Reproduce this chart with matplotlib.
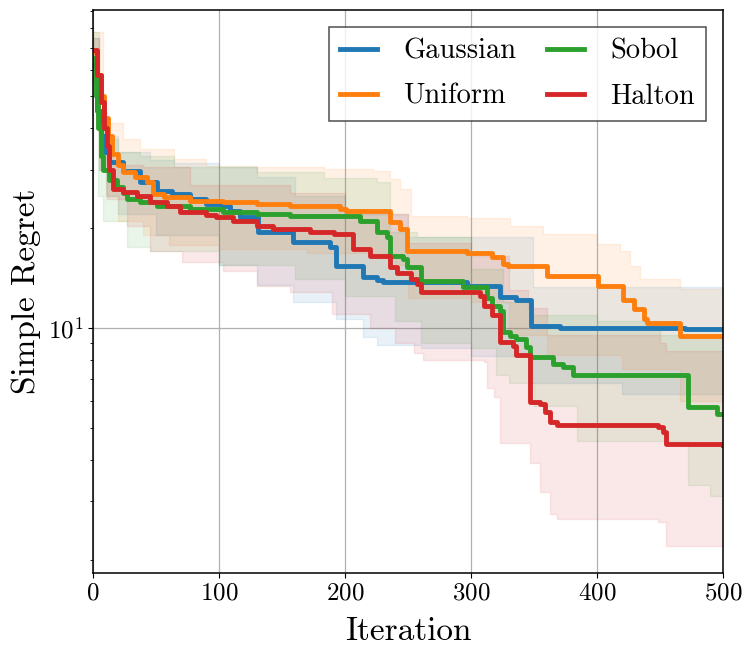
import numpy as np
import matplotlib
matplotlib.use("Agg")
import matplotlib.pyplot as plt
from matplotlib.ticker import NullFormatter

# mean simple regret (step knots: iteration, value)
gauss_x = [0, 3, 6, 9, 13, 24, 37, 51, 63, 77, 90, 103, 109, 117, 131, 159, 188, 193, 214, 225,
           230, 297, 323, 336, 348, 371, 470, 500]
gauss_y = [62, 45, 38, 34, 31.6, 29.7, 27.5, 25.9, 25.3, 24.4, 23.6, 23.3, 22.5, 21.6, 19.5, 18.2,
           17.5, 15.4, 14.2, 13.9, 13.7, 13.4, 12.4, 12.1, 10.15, 10.0, 9.9, 9.9]

unif_x = [0, 3, 6, 9, 12, 15, 20, 24, 33, 43, 48, 56, 77, 103, 130, 156, 196, 201, 236, 244,
          249, 297, 317, 325, 329, 360, 401, 421, 429, 437, 440, 466, 500]
unif_y = [68, 58, 50, 43, 38, 33.5, 31, 29.5, 28.5, 27.5, 25.3, 24.8, 24.1, 23.9, 23.6, 23.3,
          22.8, 22.5, 20.8, 19.9, 17.1, 16.8, 16.4, 15.6, 15.4, 14.3, 13.4, 12.1, 11.4, 10.6,
          10.35, 9.45, 9.45]

sobol_x = [0, 2, 4, 6, 8, 13, 19, 24, 27, 37, 51, 77, 103, 130, 156, 212, 225, 233, 236, 246,
           249, 260, 294, 313, 317, 323, 325, 331, 336, 344, 347, 365, 373, 381, 472, 495, 500]
sobol_y = [65, 50, 40, 33, 30, 28, 26.5, 25.5, 24.4, 23.9, 23.3, 22.8, 22.3, 22.0, 21.7, 21.0,
           19.5, 18.8, 16.5, 16.1, 15.3, 13.8, 13.3, 12.3, 11.6, 11.2, 9.7, 9.45, 9.27, 8.77,
           8.18, 7.79, 7.63, 7.2, 5.78, 5.51, 5.51]

halton_x = [0, 3, 6, 9, 11, 13, 16, 24, 35, 45, 59, 69, 90, 98, 111, 130, 143, 172, 191, 206, 220,
            236, 241, 252, 257, 260, 307, 310, 317, 323, 333, 336, 347, 355, 359, 363, 368, 448,
            452, 455, 500]
halton_y = [69, 58, 48, 40, 35.4, 30, 26.2, 25.7, 25.0, 23.9, 23.3, 22.3, 21.9, 21.6, 21.0, 20.3,
            19.9, 19.5, 19.2, 17.3, 16.5, 15.3, 14.6, 14.05, 13.6, 12.8, 12.5, 11.6, 10.9, 9.07,
            8.83, 8.3, 5.98, 5.9, 5.58, 5.21, 5.10, 5.03, 4.86, 4.45, 4.42]

# shaded bands (upper / lower step knots)
gauss_hi_x = [0, 5, 10, 20, 45, 64, 100, 130, 160, 200, 250, 349, 500]
gauss_hi = [75, 45, 38, 34, 32, 31.5, 30.5, 28.5, 25, 22, 18.8, 13.3, 13.1]
gauss_lo_x = [0, 5, 10, 20, 50, 100, 130, 159, 193, 214, 225, 260, 300, 348, 420, 500]
gauss_lo = [50, 30, 25, 22, 19, 15.5, 13.5, 12.0, 10.6, 9.4, 8.9, 8.7, 8.2, 6.8, 6.3, 6.2]

unif_hi_x = [0, 8, 24, 37, 64, 90, 130, 183, 222, 236, 244, 252, 297, 331, 357, 400, 418, 426,
             434, 466, 500]
unif_hi = [78, 41.6, 37.1, 34.6, 32.3, 30.8, 30.5, 30.1, 29.7, 28.1, 26.2, 21.7, 21.4, 20.3,
           19.2, 17.9, 17.0, 15.4, 14.05, 13.1, 13.1]
unif_lo_x = [0, 5, 10, 20, 40, 60, 100, 170, 240, 250, 300, 330, 360, 420, 466, 500]
unif_lo = [55, 35, 25, 21, 19, 17.8, 17.3, 16.8, 15.5, 12.3, 12.0, 9.5, 8.3, 7.5, 6.0, 6.0]

sobol_hi_x = [0, 5, 10, 20, 37, 64, 130, 183, 225, 236, 257, 300, 325, 348, 400, 450, 500]
sobol_hi = [78, 45, 37, 34, 33, 30.5, 29.5, 28.3, 27.5, 19.5, 18.8, 15, 12, 10.9, 10.5, 9.5, 9.0]
sobol_lo_x = [0, 4, 8, 27, 45, 100, 160, 200, 240, 260, 300, 320, 330, 350, 384, 472, 490, 500]
sobol_lo = [55, 25, 21, 17.5, 17.0, 15.5, 14, 12.5, 10.5, 9.0, 8.7, 7.2, 6.8, 5.8, 4.55, 3.35,
            3.1, 3.1]

halton_hi_x = [0, 5, 10, 16, 40, 77, 156, 200, 250, 300, 323, 330, 345, 360, 450, 455, 500]
halton_hi = [75, 45, 35, 31, 30.5, 27, 25.5, 22, 18, 16.5, 16.5, 13, 11.5, 9.5, 9.0, 8.5, 8.5]
halton_lo_x = [0, 5, 11, 27, 45, 71, 103, 130, 156, 190, 220, 240, 255, 262, 310, 313, 318, 323,
               347, 355, 363, 368, 448, 455, 500]
halton_lo = [55, 30, 24.4, 20.3, 17.0, 15.8, 14.8, 13.4, 12.8, 11.0, 10.0, 9.0, 8.4, 8.0, 7.9,
             6.6, 6.2, 4.5, 3.9, 3.2, 2.75, 2.65, 2.6, 2.2, 2.2]

labels = ["Gaussian", "Uniform", "Sobol", "Halton"]
colors = ["tab:blue", "tab:orange", "tab:green", "tab:red"]


def step_at(xk, yk, x):
    # value of a post-step function at x
    idx = np.searchsorted(xk, x, side="right") - 1
    return np.asarray(yk)[idx]


plt.rcParams["font.family"] = "serif"
plt.rcParams["font.serif"] = ["cmr10"]
plt.rcParams["mathtext.fontset"] = "cm"
plt.rcParams["axes.formatter.use_mathtext"] = True

fig = plt.figure(figsize=(7.53, 6.58), dpi=100)
ax = fig.add_axes([0.1235, 0.129, 0.8367, 0.856])

means = [(gauss_x, gauss_y), (unif_x, unif_y), (sobol_x, sobol_y), (halton_x, halton_y)]
bands = [(gauss_lo_x, gauss_lo, gauss_hi_x, gauss_hi),
         (unif_lo_x, unif_lo, unif_hi_x, unif_hi),
         (sobol_lo_x, sobol_lo, sobol_hi_x, sobol_hi),
         (halton_lo_x, halton_lo, halton_hi_x, halton_hi)]

for (mx, my), (lx, ly, hx, hy), lab, c in zip(means, bands, labels, colors):
    xs = np.union1d(lx, hx)
    ax.fill_between(xs, step_at(lx, ly, xs), step_at(hx, hy, xs), step="post",
                    color=c, alpha=0.1)
    ax.step(mx, my, where="post", color=c, lw=3.5, label=lab)

ax.set_yscale("log")
ax.set_xlim(0, 500)
ax.set_ylim(1.82, 91)
ax.yaxis.set_minor_formatter(NullFormatter())
ax.grid(True, which="major", color="#b0b0b0", lw=0.9)
ax.set_axisbelow(True)
ax.tick_params(labelsize=18)
for s in ax.spines.values():
    s.set_linewidth(1.1)

ax.set_xlabel("Iteration", fontsize=24, labelpad=9)
ax.set_ylabel("Simple Regret", fontsize=24, labelpad=5)

leg = ax.legend(loc="upper right", ncol=2, fontsize=20.5, fancybox=False, edgecolor="#222222",
                handlelength=1.3, handletextpad=0.9, columnspacing=1.1, labelspacing=0.65,
                borderaxespad=0.6)
leg.get_frame().set_linewidth(1.1)

fig.savefig("out.png", dpi=100)
